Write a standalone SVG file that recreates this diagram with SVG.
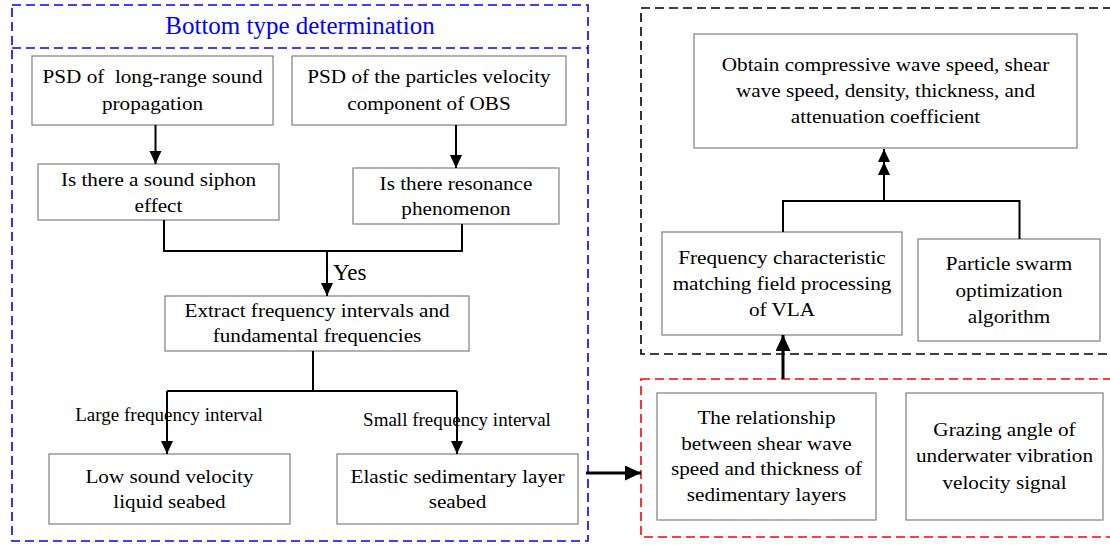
<svg xmlns="http://www.w3.org/2000/svg" width="1110" height="545" viewBox="0 0 1110 545">
  <defs>
    <marker id="arr" markerUnits="userSpaceOnUse" markerWidth="14" markerHeight="13" refX="13" refY="6" orient="auto">
      <path d="M0,0 L13,6 L0,12 Z" fill="#000"/>
    </marker>
    <marker id="arrBig" markerUnits="userSpaceOnUse" markerWidth="17" markerHeight="16" refX="16" refY="7.5" orient="auto">
      <path d="M0,0 L16,7.5 L0,15 Z" fill="#000"/>
    </marker>
  </defs>
  <style>
    .frame { fill: none; stroke-width: 1.6; stroke-dasharray: 9 5; }
    .box rect { fill: #fff; stroke: #7f7f7f; stroke-width: 1.2; }
    .box text { font-family: "Liberation Serif", "Times New Roman", serif; font-size: 19px; fill: #000; text-anchor: middle; }
    .link { fill: none; stroke: #000; stroke-width: 2; }
    .thick { stroke-width: 3; }
    .lbl { font-family: "Liberation Serif", "Times New Roman", serif; fill: #000; }
  </style>

  <rect width="1110" height="545" fill="#fff"/>

  <!-- frames -->
  <g id="frames">
    <rect class="frame" x="12" y="5" width="576" height="536" stroke="#0000ff"/>
    <line class="frame" x1="12" y1="48" x2="588" y2="48" stroke="#0000ff"/>
    <text x="300" y="34" font-family="Liberation Serif, Times New Roman, serif" font-size="25" fill="#0000ff" text-anchor="middle">Bottom type determination</text>
    <rect class="frame" x="641" y="8" width="480" height="346" stroke="#000"/>
    <rect class="frame" x="641" y="379" width="480" height="158" stroke="#ff0000"/>
  </g>

  <!-- nodes -->
  <g id="psd-sound" class="box">
    <rect x="32" y="56" width="241" height="69"/>
    <text transform="translate(152.5 0) scale(1.115 1)"><tspan x="0" y="83.5">PSD of&#160; long-range sound</tspan><tspan x="0" y="110">propagation</tspan></text>
  </g>
  <g id="psd-obs" class="box">
    <rect x="292" y="56" width="274" height="69"/>
    <text transform="translate(429 0) scale(1.115 1)"><tspan x="0" y="83.5">PSD of the particles velocity</tspan><tspan x="0" y="110">component of OBS</tspan></text>
  </g>
  <g id="siphon" class="box">
    <rect x="38" y="164" width="241" height="56"/>
    <text transform="translate(158.5 0) scale(1.115 1)"><tspan x="0" y="186">Is there a sound siphon</tspan><tspan x="0" y="212">effect</tspan></text>
  </g>
  <g id="resonance" class="box">
    <rect x="353" y="168" width="206" height="56"/>
    <text transform="translate(456 0) scale(1.115 1)"><tspan x="0" y="190">Is there resonance</tspan><tspan x="0" y="215.5">phenomenon</tspan></text>
  </g>
  <g id="extract" class="box">
    <rect x="165" y="296" width="304" height="55"/>
    <text transform="translate(317 0) scale(1.115 1)"><tspan x="0" y="317">Extract frequency intervals and</tspan><tspan x="0" y="342.5">fundamental frequencies</tspan></text>
  </g>
  <g id="liquid" class="box">
    <rect x="49" y="454" width="241" height="70"/>
    <text transform="translate(169.5 0) scale(1.115 1)"><tspan x="0" y="483">Low sound velocity</tspan><tspan x="0" y="508.5">liquid seabed</tspan></text>
  </g>
  <g id="elastic" class="box">
    <rect x="337" y="454" width="241" height="70"/>
    <text transform="translate(457.5 0) scale(1.115 1)"><tspan x="0" y="483">Elastic sedimentary layer</tspan><tspan x="0" y="508.5">seabed</tspan></text>
  </g>
  <g id="result" class="box">
    <rect x="694" y="34" width="383" height="114"/>
    <text transform="translate(885.5 0) scale(1.115 1)"><tspan x="0" y="71">Obtain compressive wave speed, shear</tspan><tspan x="0" y="97">wave speed, density, thickness, and</tspan><tspan x="0" y="123.5">attenuation coefficient</tspan></text>
  </g>
  <g id="mfp" class="box">
    <rect x="662" y="232" width="240" height="103"/>
    <text transform="translate(782 0) scale(1.115 1)"><tspan x="0" y="264">Frequency characteristic</tspan><tspan x="0" y="290">matching field processing</tspan><tspan x="0" y="316">of VLA</tspan></text>
  </g>
  <g id="pso" class="box">
    <rect x="918" y="239" width="182" height="102"/>
    <text transform="translate(1009 0) scale(1.115 1)"><tspan x="0" y="270.5">Particle swarm</tspan><tspan x="0" y="297">optimization</tspan><tspan x="0" y="323">algorithm</tspan></text>
  </g>
  <g id="shear-thickness" class="box">
    <rect x="657" y="393" width="219" height="127"/>
    <text transform="translate(766.5 0) scale(1.115 1)"><tspan x="0" y="424.5">The relationship</tspan><tspan x="0" y="450">between shear wave</tspan><tspan x="0" y="475.5">speed and thickness of</tspan><tspan x="0" y="501.5">sedimentary layers</tspan></text>
  </g>
  <g id="grazing" class="box">
    <rect x="906" y="393" width="197" height="127"/>
    <text transform="translate(1004.5 0) scale(1.115 1)"><tspan x="0" y="436">Grazing angle of</tspan><tspan x="0" y="462">underwater vibration</tspan><tspan x="0" y="489">velocity signal</tspan></text>
  </g>

  <!-- connectors -->
  <g id="connectors">
    <path class="link" d="M155.5 125 V164" marker-end="url(#arr)"/>
    <path class="link" d="M456 125 V168" marker-end="url(#arr)"/>
    <path class="link" d="M164 220 V251 H462 V224"/>
    <path class="link" d="M327 251 V296" marker-end="url(#arr)"/>
    <text class="lbl" x="333" y="280" font-size="23">Yes</text>
    <path class="link" d="M313 351 V391"/>
    <path class="link" d="M167 391 H457"/>
    <path class="link" d="M167 391 V454" marker-end="url(#arr)"/>
    <path class="link" d="M457 391 V454" marker-end="url(#arr)"/>
    <text class="lbl" x="169" y="421" font-size="19" text-anchor="middle">Large frequency interval</text>
    <text class="lbl" x="457" y="426" font-size="19" text-anchor="middle">Small frequency interval</text>
    <path class="link thick" d="M586 473 H641" marker-end="url(#arrBig)"/>
    <path class="link thick" d="M783 379 V335" marker-end="url(#arrBig)"/>
    <path class="link" d="M783 232 V201 H1019.5 V239"/>
    <path class="link" d="M884 201 V162 V149" marker-mid="url(#arr)" marker-end="url(#arr)"/>
  </g>
</svg>
